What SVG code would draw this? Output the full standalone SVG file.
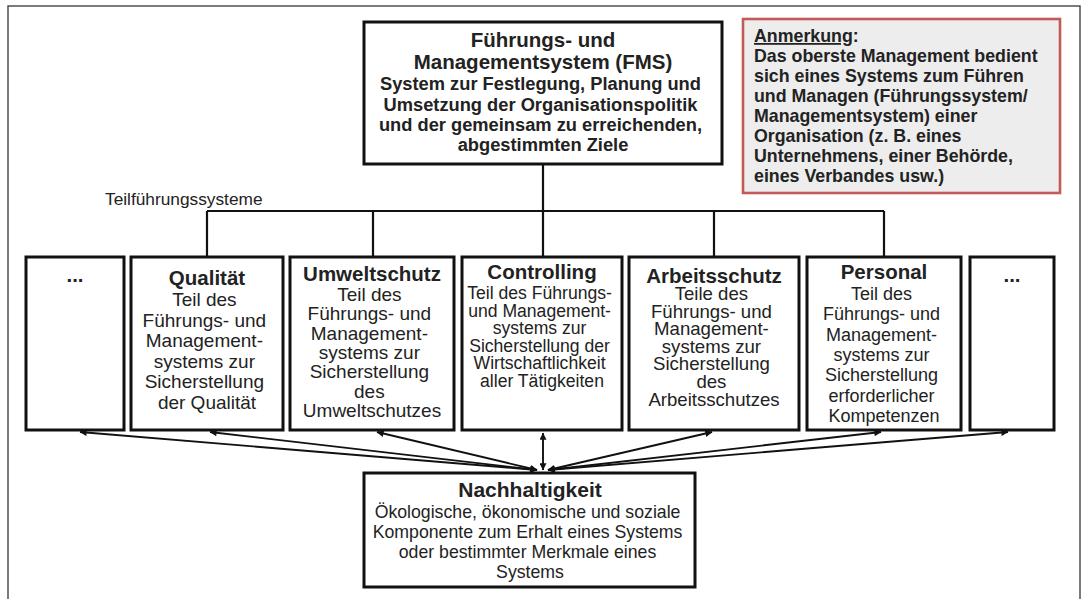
<svg xmlns="http://www.w3.org/2000/svg" width="1086" height="599" viewBox="0 0 1086 599">
  <style>
    text { font-family: "Liberation Sans", Arial, Helvetica, sans-serif; fill: #222; }
    .c { text-anchor: middle; }
    .b { font-weight: bold; }
    .box { fill: #fff; stroke: #111; stroke-width: 3; }
    .bus { fill: none; stroke: #111; stroke-width: 2.2; }
    .arr { fill: none; stroke: #111; stroke-width: 1.9; marker-start: url(#head); marker-end: url(#head); }
  </style>
  <defs>
    <marker id="head" viewBox="0 0 10 10" refX="9.5" refY="5" markerUnits="userSpaceOnUse" markerWidth="9" markerHeight="7" orient="auto-start-reverse">
      <path d="M0,0 L10,5 L0,10 z" fill="#111"/>
    </marker>
  </defs>

  <rect width="1086" height="599" fill="#fff"/>
  <!-- outer frame (open at the bottom edge) -->
  <rect x="8" y="6" width="1072" height="640" fill="none" stroke="#444" stroke-width="1.4"/>

  <!-- connectors -->
  <g id="connectors">
    <path class="bus" d="M543,164 V257 M207,211 H884 M207,211 V257 M373,211 V257 M714,211 V257 M884,211 V257"/>
    <path class="arr" d="M537,470 L80,432"/>
    <path class="arr" d="M537,470 L210,432"/>
    <path class="arr" d="M537,470 L377,432"/>
    <path class="arr" d="M543,470 L543,433"/>
    <path class="arr" d="M548,470 L712,432"/>
    <path class="arr" d="M548,470 L881,432"/>
    <path class="arr" d="M548,470 L1008,432"/>
  </g>

  <text x="105" y="205" font-size="17.3">Teilführungssysteme</text>

  <!-- top-level management system -->
  <g id="fms">
    <rect class="box" x="364" y="22" width="358" height="142"/>
    <text class="c b" x="543" y="47" font-size="20.5">Führungs- und</text>
    <text class="c b" x="543" y="69" font-size="20.5">Managementsystem (FMS)</text>
    <text class="c b" font-size="18.3">
      <tspan x="543" y="90">System zur Festlegung, Planung und</tspan>
      <tspan x="543" y="110.5">Umsetzung der Organisationspolitik</tspan>
      <tspan x="543" y="130.5">und der gemeinsam zu erreichenden,</tspan>
      <tspan x="543" y="151">abgestimmten Ziele</tspan>
    </text>
  </g>

  <!-- note -->
  <g id="anmerkung">
    <rect x="743" y="19" width="317" height="174" fill="#ededed" stroke="#c25a58" stroke-width="2.6"/>
    <text class="b" font-size="17.8">
      <tspan x="754" y="42"><tspan text-decoration="underline">Anmerkung</tspan>:</tspan>
      <tspan x="754" y="62">Das oberste Management bedient</tspan>
      <tspan x="754" y="82">sich eines Systems zum Führen</tspan>
      <tspan x="754" y="102">und Managen (Führungssystem/</tspan>
      <tspan x="754" y="122">Managementsystem) einer</tspan>
      <tspan x="754" y="142">Organisation (z. B. eines</tspan>
      <tspan x="754" y="162">Unternehmens, einer Behörde,</tspan>
      <tspan x="754" y="182">eines Verbandes usw.)</tspan>
    </text>
  </g>

  <g id="more-left">
    <rect class="box" x="26" y="257" width="98" height="173"/>
    <text class="c b" x="75" y="282" font-size="20.5">...</text>
  </g>

  <g id="qualitaet">
    <rect class="box" x="131" y="257" width="152" height="173"/>
    <text class="c b" x="207" y="285" font-size="20.5">Qualität</text>
    <text class="c" font-size="19">
      <tspan x="207" y="306">Teil des</tspan>
      <tspan x="207" y="326.5">Führungs- und</tspan>
      <tspan x="207" y="347">Management-</tspan>
      <tspan x="207" y="367.5">systems zur</tspan>
      <tspan x="207" y="388">Sicherstellung</tspan>
      <tspan x="207" y="408.5">der Qualität</tspan>
    </text>
  </g>

  <g id="umweltschutz">
    <rect class="box" x="290" y="257" width="164" height="173"/>
    <text class="c b" x="372" y="281" font-size="20.5">Umweltschutz</text>
    <text class="c" font-size="19">
      <tspan x="372" y="301">Teil des</tspan>
      <tspan x="372" y="320.3">Führungs- und</tspan>
      <tspan x="372" y="339.6">Management-</tspan>
      <tspan x="372" y="358.9">systems zur</tspan>
      <tspan x="372" y="378.2">Sicherstellung</tspan>
      <tspan x="372" y="397.5">des</tspan>
      <tspan x="372" y="416.8">Umweltschutzes</tspan>
    </text>
  </g>

  <g id="controlling">
    <rect class="box" x="462" y="257" width="160" height="173"/>
    <text class="c b" x="542" y="279" font-size="20.5">Controlling</text>
    <text class="c" font-size="17.6">
      <tspan x="542" y="299">Teil des Führungs-</tspan>
      <tspan x="542" y="316.6">und Management-</tspan>
      <tspan x="542" y="334.2">systems zur</tspan>
      <tspan x="542" y="351.8">Sicherstellung der</tspan>
      <tspan x="542" y="369.4">Wirtschaftlichkeit</tspan>
      <tspan x="542" y="387">aller Tätigkeiten</tspan>
    </text>
  </g>

  <g id="arbeitsschutz">
    <rect class="box" x="629" y="257" width="170" height="173"/>
    <text class="c b" x="714" y="283" font-size="20.5">Arbeitsschutz</text>
    <text class="c" font-size="18.6">
      <tspan x="714" y="300">Teile des</tspan>
      <tspan x="714" y="317.6">Führungs- und</tspan>
      <tspan x="714" y="335.2">Management-</tspan>
      <tspan x="714" y="352.8">systems zur</tspan>
      <tspan x="714" y="370.4">Sicherstellung</tspan>
      <tspan x="714" y="388">des</tspan>
      <tspan x="714" y="405.6">Arbeitsschutzes</tspan>
    </text>
  </g>

  <g id="personal">
    <rect class="box" x="807" y="257" width="154" height="173"/>
    <text class="c b" x="884" y="279" font-size="20.5">Personal</text>
    <text class="c" font-size="18">
      <tspan x="884" y="300">Teil des</tspan>
      <tspan x="884" y="320.3">Führungs- und</tspan>
      <tspan x="884" y="340.6">Management-</tspan>
      <tspan x="884" y="360.9">systems zur</tspan>
      <tspan x="884" y="381.2">Sicherstellung</tspan>
      <tspan x="884" y="401.5">erforderlicher</tspan>
      <tspan x="884" y="421.8">Kompetenzen</tspan>
    </text>
  </g>

  <g id="more-right">
    <rect class="box" x="970" y="257" width="84" height="173"/>
    <text class="c b" x="1012" y="282" font-size="20.5">...</text>
  </g>

  <g id="nachhaltigkeit">
    <rect class="box" x="364" y="473" width="331" height="114"/>
    <text class="c b" x="530" y="497" font-size="21">Nachhaltigkeit</text>
    <text class="c" font-size="17.7">
      <tspan x="530" y="518">Ökologische, ökonomische und soziale</tspan>
      <tspan x="530" y="538">Komponente zum Erhalt eines Systems</tspan>
      <tspan x="530" y="558">oder bestimmter Merkmale eines</tspan>
      <tspan x="530" y="578">Systems</tspan>
    </text>
  </g>
</svg>
